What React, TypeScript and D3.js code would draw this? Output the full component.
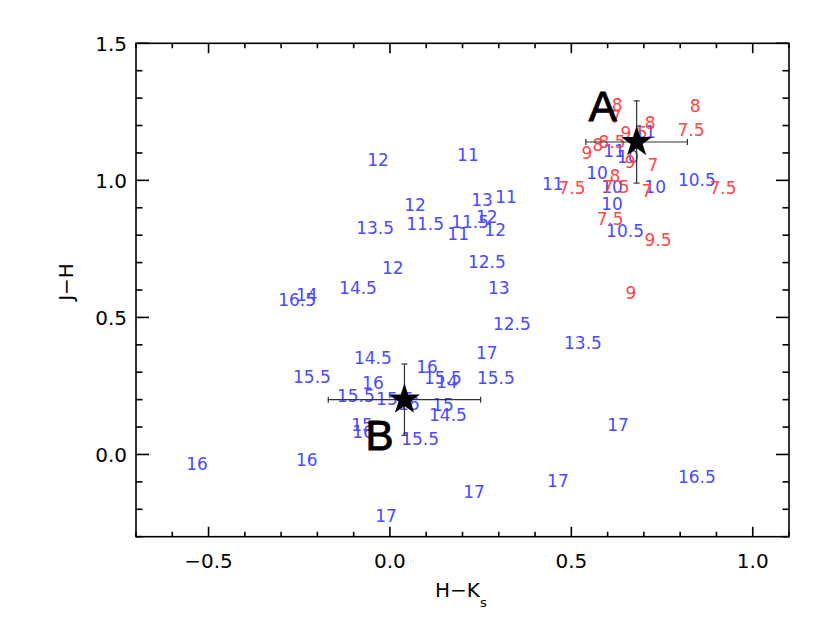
import React from "react";
import * as d3 from "d3";

// [H-Ks, J-H, label]
const blueLabels: [number, number, string][] = [
  [-0.033, 1.073, "12"],
  [0.215, 1.092, "11"],
  [0.449, 0.986, "11"],
  [0.069, 0.909, "12"],
  [0.254, 0.927, "13"],
  [0.32, 0.938, "11"],
  [-0.041, 0.828, "13.5"],
  [0.097, 0.843, "11.5"],
  [0.221, 0.847, "11.5"],
  [0.267, 0.865, "12"],
  [0.29, 0.821, "12"],
  [0.188, 0.806, "11"],
  [0.267, 0.704, "12.5"],
  [0.008, 0.682, "12"],
  [-0.088, 0.609, "14.5"],
  [0.3, 0.609, "13"],
  [-0.229, 0.583, "14"],
  [-0.256, 0.565, "16.5"],
  [0.336, 0.477, "12.5"],
  [0.532, 0.408, "13.5"],
  [0.267, 0.371, "17"],
  [-0.047, 0.353, "14.5"],
  [0.102, 0.32, "16"],
  [-0.215, 0.284, "15.5"],
  [0.146, 0.28, "15.5"],
  [0.157, 0.265, "14"],
  [0.292, 0.28, "15.5"],
  [-0.047, 0.262, "16"],
  [-0.094, 0.214, "15.5"],
  [0.014, 0.203, "15.5"],
  [0.052, 0.185, "16"],
  [0.146, 0.181, "15"],
  [0.16, 0.145, "14.5"],
  [-0.077, 0.108, "15"],
  [-0.074, 0.083, "16"],
  [0.083, 0.057, "15.5"],
  [0.629, 0.108, "17"],
  [-0.532, -0.035, "16"],
  [-0.229, -0.02, "16"],
  [0.232, -0.137, "17"],
  [0.463, -0.097, "17"],
  [0.846, -0.082, "16.5"],
  [-0.011, -0.225, "17"],
  [0.846, 1.0, "10.5"],
  [0.731, 0.975, "10"],
  [0.571, 1.026, "10"],
  [0.612, 0.978, "10"],
  [0.612, 0.916, "10"],
  [0.648, 0.817, "10.5"],
  [0.703, 1.176, "11"],
  [0.618, 1.106, "11"],
  [0.656, 1.084, "10"],
];

const redLabels: [number, number, string][] = [
  [0.841, 1.271, "8"],
  [0.83, 1.183, "7.5"],
  [0.626, 1.274, "8"],
  [0.623, 1.231, "7"],
  [0.717, 1.209, "8"],
  [0.673, 1.172, "9.5"],
  [0.543, 1.099, "9"],
  [0.573, 1.128, "8"],
  [0.612, 1.139, "8.5"],
  [0.662, 1.066, "9"],
  [0.725, 1.055, "7"],
  [0.62, 1.018, "8"],
  [0.623, 0.978, "7.5"],
  [0.708, 0.96, "7"],
  [0.502, 0.971, "7.5"],
  [0.918, 0.971, "7.5"],
  [0.607, 0.861, "7.5"],
  [0.739, 0.784, "9.5"],
  [0.664, 0.591, "9"],
];

// name, H-Ks, J-H, error H-Ks, error J-H
const stars: [string, number, number, number, number][] = [
  ["A", 0.68, 1.14, 0.14, 0.15],
  ["B", 0.04, 0.2, 0.21, 0.13],
];

const xMajorTicks = [-0.5, 0.0, 0.5, 1.0];
const xTickLabels = ["\u22120.5", "0.0", "0.5", "1.0"];
const yMajorTicks = [0.0, 0.5, 1.0, 1.5];
const yTickLabels = ["0.0", "0.5", "1.0", "1.5"];

const W = 830;
const H = 623;
const L = 136, R = 789, T = 43.3, B = 536.7;

export default function App() {
  const x = d3.scaleLinear().domain([-0.7, 1.1]).range([L, R]);
  const y = d3.scaleLinear().domain([-0.3, 1.5]).range([B, T]);
  const xMinor = d3.range(-7, 12).map((i) => i / 10);
  const yMinor = d3.range(-3, 16).map((i) => i / 10);
  const isMajor = (v: number) => Math.abs(v * 2 - Math.round(v * 2)) < 1e-6;
  const xTickLen = 9.9, yTickLen = 13;
  const starPath = d3.symbol(d3.symbolStar, 300)() as string;
  const labelOffsets: Record<string, [number, number]> = { A: [-34, -21], B: [-25, 50] };
  const font = "'DejaVu Sans', sans-serif";

  return (
    <svg width={W} height={H} style={{ position: "absolute", left: 0, top: 0, background: "#fff" }}>
      <rect x={0} y={0} width={W} height={H} fill="#fff" />
      {/* data labels */}
      <g fontFamily={font} fontSize={17} textAnchor="middle">
        {blueLabels.map((d, i) => (
          <text key={"b" + i} x={x(d[0])} y={y(d[1])} dy="0.36em" fill="#4a4aff">
            {d[2]}
          </text>
        ))}
        {redLabels.map((d, i) => (
          <text key={"r" + i} x={x(d[0])} y={y(d[1])} dy="0.36em" fill="#ff4646">
            {d[2]}
          </text>
        ))}
      </g>
      {/* stars with error bars */}
      {stars.map((s) => {
        const cx = x(s[1]), cy = y(s[2]);
        const x0 = x(s[1] - s[3]), x1 = x(s[1] + s[3]);
        const y0 = y(s[2] - s[4]), y1 = y(s[2] + s[4]);
        const c = 3;
        const off = labelOffsets[s[0]];
        return (
          <g key={s[0]}>
            <g stroke="#333" strokeWidth={1.2}>
              <line x1={x0} x2={x1} y1={cy} y2={cy} />
              <line x1={x0} x2={x0} y1={cy - c} y2={cy + c} />
              <line x1={x1} x2={x1} y1={cy - c} y2={cy + c} />
              <line x1={cx} x2={cx} y1={y0} y2={y1} />
              <line x1={cx - c} x2={cx + c} y1={y0} y2={y0} />
              <line x1={cx - c} x2={cx + c} y1={y1} y2={y1} />
            </g>
            <path d={starPath} transform={`translate(${cx},${cy})`} fill="#000" />
            <text
              x={cx + off[0]}
              y={cy + off[1]}
              textAnchor="middle"
              fontFamily="'Liberation Sans', sans-serif"
              fontSize={42}
              fill="#000"
              stroke="#000"
              strokeWidth={1}
            >
              {s[0]}
            </text>
          </g>
        );
      })}
      {/* frame */}
      <rect x={L} y={T} width={R - L} height={B - T} fill="none" stroke="#000" strokeWidth={1.6} />
      <g stroke="#000" strokeWidth={1.6}>
        {xMinor.map((v, i) => {
          const len = isMajor(v) ? xTickLen : xTickLen / 2;
          return (
            <g key={"xt" + i}>
              <line x1={x(v)} x2={x(v)} y1={B} y2={B - len} />
              <line x1={x(v)} x2={x(v)} y1={T} y2={T + len} />
            </g>
          );
        })}
        {yMinor.map((v, i) => {
          const len = isMajor(v) ? yTickLen : yTickLen / 2;
          return (
            <g key={"yt" + i}>
              <line x1={L} x2={L + len} y1={y(v)} y2={y(v)} />
              <line x1={R} x2={R - len} y1={y(v)} y2={y(v)} />
            </g>
          );
        })}
      </g>
      <g fontFamily={font} fontSize={20} fill="#000">
        {xMajorTicks.map((v, i) => (
          <text key={"xl" + i} x={x(v)} y={568} textAnchor="middle">
            {xTickLabels[i]}
          </text>
        ))}
        {yMajorTicks.map((v, i) => (
          <text key={"yl" + i} x={127} y={y(v)} dy="0.36em" textAnchor="end">
            {yTickLabels[i]}
          </text>
        ))}
        <text x={435} y={597}>
          H{"\u2212"}K<tspan fontSize={13} dy={10}>s</tspan>
        </text>
        <text transform="translate(73,282) rotate(-90)" textAnchor="middle">
          J{"\u2212"}H
        </text>
      </g>
    </svg>
  );
}
